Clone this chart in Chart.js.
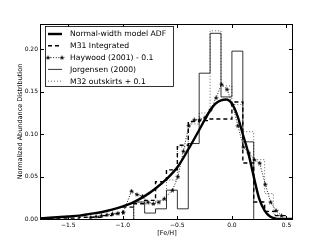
<!DOCTYPE html>
<html>
<head>
<meta charset="utf-8">
<script src="https://cdn.jsdelivr.net/npm/chart.js@4.4.1/dist/chart.umd.min.js"></script>
<style>
  html, body { margin: 0; padding: 0; background: #fff; }
  #wrap { width: 325px; height: 245px; }
</style>
</head>
<body>
<div id="wrap"><canvas id="c" width="325" height="245"></canvas></div>
<script>
const xTicks = [-1.5, -1.0, -0.5, 0.0, 0.5];
const yTicks = [0, 0.05, 0.10, 0.15, 0.20];

// Normal-width model ADF (smooth curve)
const modelX = [-1.75, -1.6, -1.5, -1.4, -1.3, -1.2, -1.1, -1.0, -0.9, -0.8, -0.7, -0.6, -0.5, -0.4, -0.3, -0.2, -0.15, -0.1, -0.05, 0.0, 0.05, 0.1, 0.15, 0.2, 0.25, 0.3, 0.35, 0.4, 0.45, 0.56];
const modelY = [0.001, 0.002, 0.003, 0.004, 0.006, 0.008, 0.011, 0.015, 0.02, 0.027, 0.036, 0.047, 0.061, 0.082, 0.105, 0.128, 0.136, 0.14, 0.141, 0.136, 0.122, 0.1, 0.078, 0.05, 0.024, 0.01, 0.003, 0.0005, 0, 0];

// M31 integrated histogram: bin edges (n+1) and values (n)
const m31Edges = [-1.8, -1.4, -1.3, -1.2, -1.1, -1.0, -0.9, -0.8, -0.7, -0.6, -0.5, -0.4, -0.3, -0.2, -0.1, 0.0, 0.1, 0.2, 0.3, 0.4, 0.5];
const m31Vals = [0.001, 0.002, 0.002, 0.004, 0.006, 0.014, 0.018, 0.022, 0.044, 0.058, 0.087, 0.115, 0.116, 0.118, 0.118, 0.138, 0.066, 0.02, 0.009, 0.004];

// Haywood (2001) - 0.1, dotted with stars
const haywoodX = [-1.295, -1.245, -1.195, -1.145, -1.095, -1.045, -0.995, -0.92, -0.87, -0.82, -0.77, -0.72, -0.67, -0.62, -0.545, -0.495, -0.445, -0.395, -0.345, -0.295, -0.245, -0.195, -0.145, -0.095, -0.045, 0.005, 0.055, 0.105, 0.155, 0.205, 0.255, 0.305, 0.355, 0.405, 0.455];
const haywoodY = [0.002, 0.003, 0.004, 0.005, 0.006, 0.007, 0.008, 0.033, 0.029, 0.027, 0.02, 0.018, 0.02, 0.024, 0.034, 0.05, 0.08, 0.11, 0.117, 0.117, 0.12, 0.129, 0.143, 0.159, 0.153, 0.135, 0.11, 0.085, 0.078, 0.07, 0.066, 0.041, 0.02, 0.01, 0.004];

// Jorgensen (2000) histogram
const jorEdges = [-0.9, -0.8, -0.7, -0.6, -0.5, -0.4, -0.3, -0.2, -0.1, 0.0, 0.1, 0.2];
const jorVals = [0.02, 0.007, 0.012, 0.034, 0.012, 0.089, 0.172, 0.219, 0.144, 0.198, 0.091];

// M32 outskirts + 0.1 histogram
const m32Edges = [-0.9, -0.8, -0.7, -0.6, -0.5, -0.4, -0.3, -0.2, -0.1, 0.0, 0.1, 0.2, 0.3, 0.38, 0.44];
const m32Vals = [0.02, 0.018, 0.022, 0.046, 0.085, 0.112, 0.125, 0.222, 0.157, 0.135, 0.103, 0.07, 0.03, 0.005];

// points for a 'before' stepped line: each value holds from its edge to the next
function stepData(edges, vals) {
    const pts = [{ x: edges[0], y: 0 }];
    vals.forEach((v, i) => pts.push({ x: edges[i], y: v }));
    pts.push({ x: edges[edges.length - 1], y: vals[vals.length - 1] });
    pts.push({ x: edges[edges.length - 1], y: 0 });
    return pts;
}
const zip = (xs, ys) => xs.map((x, i) => ({ x, y: ys[i] }));

// small filled 5-point star, like matplotlib '*'
const star = document.createElement('canvas');
star.width = 5; star.height = 5;
(function () {
    const g = star.getContext('2d');
    g.fillStyle = '#000';
    g.beginPath();
    for (let i = 0; i < 10; i++) {
        const r = i % 2 === 0 ? 2.6 : 1.1;
        const a = -Math.PI / 2 + i * Math.PI / 5;
        const px = 2.5 + r * Math.cos(a), py = 2.7 + r * Math.sin(a);
        i === 0 ? g.moveTo(px, py) : g.lineTo(px, py);
    }
    g.closePath();
    g.fill();
})();

const FONT = "'DejaVu Sans', sans-serif";
const minus = s => s.replace('-', '\u2212');

// frame on all four sides with inward ticks
const framePlugin = {
    id: 'frame',
    afterDatasetsDraw(chart) {
        const { ctx, chartArea: a, scales: { x, y } } = chart;
        ctx.save();
        ctx.strokeStyle = '#000';
        ctx.lineWidth = 1;
        ctx.setLineDash([]);
        const L = a.left - 0.5, R = a.right - 0.5, T = a.top + 0.5, B = a.bottom + 0.5;
        ctx.strokeRect(L, T, R - L, B - T);
        ctx.beginPath();
        xTicks.forEach(v => {
            const px = Math.round(x.getPixelForValue(v)) + 0.5;
            ctx.moveTo(px, B); ctx.lineTo(px, B - 3.5);
            ctx.moveTo(px, T); ctx.lineTo(px, T + 3.5);
        });
        yTicks.forEach(v => {
            const py = Math.round(y.getPixelForValue(v)) + 0.5;
            ctx.moveTo(L, py); ctx.lineTo(L + 3.5, py);
            ctx.moveTo(R, py); ctx.lineTo(R - 3.5, py);
        });
        ctx.stroke();
        ctx.restore();
    }
};

// boxed legend in the upper left, like matplotlib's
const legendPlugin = {
    id: 'boxLegend',
    afterDraw(chart) {
        const ctx = chart.ctx;
        ctx.save();
        ctx.fillStyle = '#fff';
        ctx.fillRect(45.5, 26.5, 128, 60);
        ctx.strokeStyle = '#000';
        ctx.lineWidth = 0.8;
        ctx.strokeRect(45.5, 26.5, 128, 60);
        chart.data.datasets.forEach((ds, i) => {
            const yy = 34 + i * 11.8;
            ctx.strokeStyle = ds.borderColor;
            ctx.lineWidth = ds.borderWidth;
            ctx.setLineDash(ds.borderDash || []);
            ctx.beginPath();
            ctx.moveTo(48, yy); ctx.lineTo(62, yy);
            ctx.stroke();
            if (ds.pointRadius > 0) {
                ctx.drawImage(star, 48 - 2.5, yy - 2.5);
                ctx.drawImage(star, 62 - 2.5, yy - 2.5);
            }
            ctx.setLineDash([]);
            ctx.fillStyle = '#000';
            ctx.font = '7.7px ' + FONT;
            ctx.textBaseline = 'middle';
            ctx.fillText(ds.label, 70, yy + 0.5);
        });
        ctx.restore();
    }
};

new Chart(document.getElementById('c'), {
    type: 'line',
    data: {
        datasets: [
            {
                label: 'Normal-width model ADF',
                data: zip(modelX, modelY),
                borderColor: '#000', borderWidth: 2.4,
                pointRadius: 0, cubicInterpolationMode: 'monotone', tension: 0.4, clip: 0
            },
            {
                label: 'M31 Integrated',
                data: stepData(m31Edges, m31Vals),
                borderColor: '#000', borderWidth: 1.4, borderDash: [4, 3],
                pointRadius: 0, stepped: 'before', clip: 0
            },
            {
                label: 'Haywood (2001) - 0.1',
                data: zip(haywoodX, haywoodY),
                borderColor: '#000', borderWidth: 0.9, borderDash: [1, 1.6],
                pointStyle: star, pointRadius: 2.5, pointHoverRadius: 2.5, clip: 0
            },
            {
                label: 'Jorgensen (2000)',
                data: stepData(jorEdges, jorVals),
                borderColor: '#000', borderWidth: 0.8,
                pointRadius: 0, stepped: 'before', clip: 0
            },
            {
                label: 'M32 outskirts + 0.1',
                data: stepData(m32Edges, m32Vals),
                borderColor: '#000', borderWidth: 0.6, borderDash: [1, 2],
                pointRadius: 0, stepped: 'before', clip: 0
            }
        ]
    },
    options: {
        responsive: false,
        animation: false,
        devicePixelRatio: 1,
        layout: { padding: { top: 24, right: 32, bottom: 0, left: 0 } },
        plugins: { legend: { display: false }, tooltip: { enabled: false } },
        scales: {
            x: {
                type: 'linear', min: -1.75, max: 0.56,
                afterBuildTicks: s => { s.ticks = xTicks.map(v => ({ value: v })); },
                afterFit: s => { s.height = 26; },
                grid: { display: false, drawTicks: false }, border: { display: false },
                ticks: {
                    color: '#000', padding: 3, maxRotation: 0,
                    font: { family: FONT, size: 6 },
                    callback: v => minus(v.toFixed(1))
                },
                title: {
                    display: true, text: '[Fe/H]', color: '#000',
                    font: { family: FONT, size: 6.5 }, padding: { top: 0, bottom: 8 }
                }
            },
            y: {
                type: 'linear', min: 0, max: 0.23,
                afterBuildTicks: s => { s.ticks = yTicks.map(v => ({ value: v })); },
                afterFit: s => { s.width = 41; },
                grid: { display: false, drawTicks: false }, border: { display: false },
                ticks: {
                    color: '#000', padding: 3,
                    font: { family: FONT, size: 6 },
                    callback: v => v.toFixed(2)
                },
                title: {
                    display: true, text: 'Normalized Abundance Distribution', color: '#000',
                    font: { family: FONT, size: 6.5 }, padding: { top: 16, bottom: 0 }
                }
            }
        }
    },
    plugins: [framePlugin, legendPlugin]
});
</script>
</body>
</html>
